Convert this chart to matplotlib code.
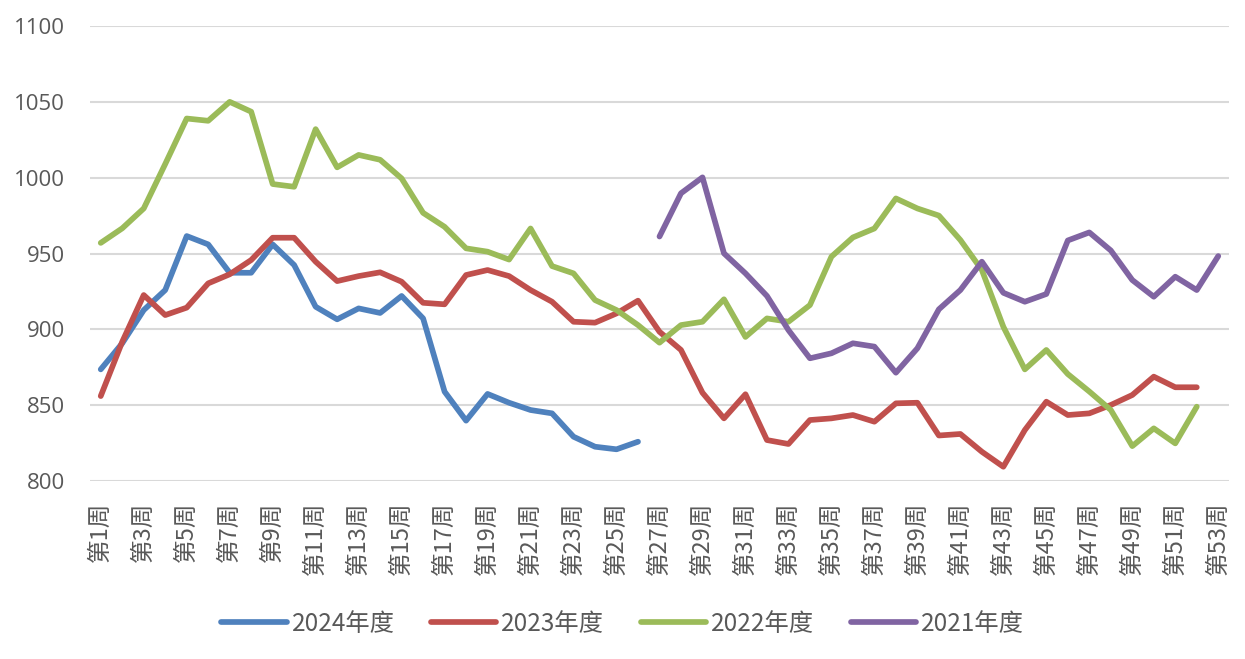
import matplotlib
matplotlib.use("Agg")
import matplotlib.pyplot as plt
import numpy as np

plt.rcParams['font.family'] = ['Noto Sans CJK SC', 'DejaVu Sans']

weeks = [f"第{i}周" for i in range(1, 54)]

s2024 = [873.6, 890.8, 912.7, 925.9, 961.5, 956.0, 937.3, 937.3, 956.0, 942.4,
         914.9, 906.6, 913.8, 910.8, 922.0, 907.2, 858.9, 839.8, 857.4, 851.6,
         846.8, 844.6, 829.2, 822.6, 820.9, 825.9]
s2023 = [856.0, 891.8, 922.6, 909.4, 914.3, 930.3, 936.3, 945.7, 960.4, 960.4,
         944.6, 931.8, 935.1, 937.6, 931.4, 917.5, 916.5, 935.8, 939.1, 935.1,
         925.9, 918.2, 905.0, 904.4, 910.5, 918.9, 898.4, 886.4, 858.2, 841.3,
         857.2, 827.0, 824.4, 840.2, 841.3, 843.5, 839.1, 851.2, 851.6, 830.0,
         831.0, 819.3, 809.4, 833.6, 852.3, 843.5, 844.6, 850.1, 856.7, 868.8,
         861.8, 861.8]
s2022 = [957.0, 966.6, 979.7, 1009.0, 1039.0, 1037.5, 1050.0, 1043.5, 995.8, 994.0,
         1032.0, 1006.8, 1015.0, 1011.8, 999.5, 976.8, 967.6, 953.4, 951.2, 946.0,
         966.5, 941.7, 936.9, 919.3, 912.7, 902.8, 891.2, 902.8, 905.0, 919.8,
         895.0, 907.2, 905.0, 916.0, 947.9, 960.6, 966.5, 986.3, 979.7, 975.0,
         958.9, 939.1, 901.7, 873.6, 886.4, 870.5, 859.0, 846.8, 823.0, 834.7,
         824.8, 849.0]
s2021 = [961.2, 989.7, 1000.2, 950.1, 936.9, 922.0, 899.5, 880.9, 884.2, 890.8,
         888.6, 871.4, 887.5, 913.2, 925.9, 944.6, 924.1, 918.2, 923.3, 958.6,
         963.9, 952.0, 932.5, 921.5, 934.7, 925.9, 948.3]
s2021_start = 26  # index of 第27周

series = [
    ("2024年度", np.arange(len(s2024)), s2024, "#4F81BD"),
    ("2023年度", np.arange(len(s2023)), s2023, "#C0504D"),
    ("2022年度", np.arange(len(s2022)), s2022, "#9BBB59"),
    ("2021年度", np.arange(s2021_start, s2021_start + len(s2021)), s2021, "#8064A2"),
]

fig = plt.figure(figsize=(12.45, 6.59), dpi=100)
ax = fig.add_axes([90/1245, 1 - 481/659, (1229 - 90)/1245, (481 - 26)/659])

for label, x, y, c in series:
    ax.plot(x, y, color=c, lw=4.1, label=label, solid_capstyle='round', solid_joinstyle='round')

ax.set_xlim(-0.5, len(weeks) - 0.5)
ax.set_ylim(800, 1100)
ax.set_yticks(np.arange(800, 1101, 50))
ax.grid(axis='y', color='#D9D9D9', lw=1.5)
ax.set_axisbelow(True)
for sp in ax.spines.values():
    sp.set_visible(False)

tick_pos = np.arange(0, len(weeks), 2)
ax.set_xticks(tick_pos)
ax.set_xticklabels([weeks[i] for i in tick_pos], rotation=90, fontsize=17, color='#595959')
ax.tick_params(axis='both', length=0)
ax.tick_params(axis='x', pad=15)
ax.tick_params(axis='y', labelsize=16, labelcolor='#595959', pad=18)
for t in ax.get_yticklabels():
    t.set_family(['Open Sans', 'DejaVu Sans'])

leg = fig.legend(loc='center', bbox_to_anchor=(0.5, 1 - 624/659), ncol=4, frameon=False,
                 fontsize=17.5, handlelength=2.7, columnspacing=1.5, handletextpad=0.2)
for t in leg.get_texts():
    t.set_color('#595959')

fig.savefig("out.png", dpi=100)
